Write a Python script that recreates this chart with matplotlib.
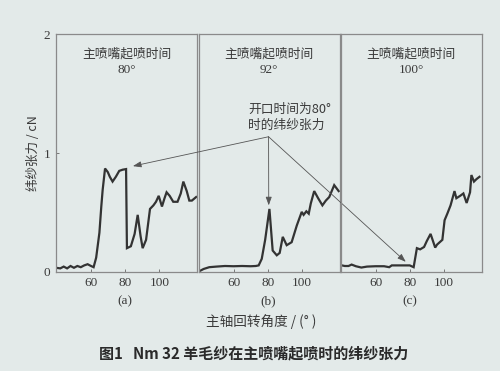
import matplotlib.pyplot as plt
import numpy as np

plt.rcParams['font.family'] = ['Noto Sans CJK SC', 'DejaVu Sans']

# main shaft angle (deg) vs weft tension (cN)
ang_a = [39.5, 42, 44, 46, 48, 50, 52, 54, 56, 58, 60, 61.5, 63, 64.9, 66, 66.8, 68.2, 69.8,
         71, 72.6, 74.5, 76.5, 78.5, 80.5, 81, 83.3, 85.5, 87.3, 89, 90.2, 92.2, 94.5, 96.5,
         98, 99.6, 101.5, 103, 104.2, 106, 108.1, 110.6, 112.5, 114, 116, 117.5, 119, 121.5]
ten_a = [0.035, 0.03, 0.045, 0.03, 0.05, 0.035, 0.05, 0.04, 0.055, 0.065, 0.05, 0.04, 0.12, 0.33,
         0.55, 0.69, 0.87, 0.84, 0.8, 0.76, 0.8, 0.85, 0.86, 0.865, 0.20, 0.216, 0.32, 0.48, 0.3,
         0.20, 0.27, 0.53, 0.56, 0.59, 0.64, 0.55, 0.62, 0.67, 0.64, 0.59, 0.59, 0.66, 0.76, 0.68,
         0.60, 0.60, 0.63]

ang_b = [40.5, 42.5, 45.8, 50, 55, 60, 65, 70, 73, 74.7, 76.5, 78.5, 81, 82.9, 85.3, 87, 88.8,
         91.1, 94, 97, 99.9, 101, 102.6, 104, 105.2, 107.2, 109.5, 112, 114, 116, 118.9, 121.5]
ten_b = [0.01, 0.025, 0.04, 0.045, 0.05, 0.048, 0.05, 0.048, 0.05, 0.055, 0.11, 0.27, 0.53,
         0.18, 0.14, 0.16, 0.295, 0.225, 0.25, 0.39, 0.505, 0.48, 0.51, 0.49, 0.576, 0.68,
         0.62, 0.56, 0.6, 0.63, 0.73, 0.68]

ang_c = [40, 42, 44.2, 46, 48.5, 51.7, 55, 60, 65, 68, 69.5, 72, 76, 80, 82.3, 84.2, 86.1, 88.4,
         90, 92.2, 94.9, 96, 99.1, 100.4, 102, 103.9, 106.2, 107.3, 109.5, 111.4, 113.3, 115.3,
         116.1, 117.6, 119, 120.8]
ten_c = [0.056, 0.05, 0.05, 0.062, 0.048, 0.037, 0.045, 0.048, 0.048, 0.04, 0.055, 0.055, 0.055,
         0.055, 0.04, 0.20, 0.19, 0.21, 0.26, 0.32, 0.205, 0.23, 0.27, 0.435, 0.49, 0.56, 0.68,
         0.62, 0.64, 0.66, 0.58, 0.67, 0.815, 0.76, 0.78, 0.80]

start_angles = ['80°', '92°', '100°']
panel_tags = ['(a)', '(b)', '(c)']
xticks = [60, 80, 100]
yticks = [0, 1, 2]

bg = '#e3eae9'
ink = '#3a3a3a'
serif = ['Liberation Serif', 'DejaVu Serif']

fig = plt.figure(figsize=(5, 3.71), dpi=100, facecolor=bg)
lefts = [0.112, 0.397, 0.681]
axes = []
for i, (x, y) in enumerate([(ang_a, ten_a), (ang_b, ten_b), (ang_c, ten_c)]):
    ax = fig.add_axes([lefts[i], 0.267, 0.282, 0.641])
    ax.set_facecolor('none')
    ax.plot(x, y, color='#333333', lw=1.6, solid_joinstyle='miter')
    ax.set_xlim(39.5, 122)
    ax.set_ylim(0, 2)
    ax.set_xticks(xticks)
    ax.set_xticklabels([str(t) for t in xticks], family=serif, fontsize=9.5, color=ink)
    ax.set_yticks(yticks)
    if i == 0:
        ax.set_yticklabels([str(t) for t in yticks], family=serif, fontsize=9.5, color=ink)
    else:
        ax.tick_params(axis='y', left=False, labelleft=False)
    ax.tick_params(direction='in', length=2.5, width=0.7, colors='#777777', labelcolor=ink, pad=4)
    for s in ax.spines.values():
        s.set_color('#8a8a8a')
        s.set_linewidth(0.9)
    ax.text(0.5, 0.915, '主喷嘴起喷时间', transform=ax.transAxes, ha='center', va='center',
            fontsize=9.2, color=ink)
    ax.text(0.5, 0.85, start_angles[i], transform=ax.transAxes, ha='center', va='center',
            family=serif, fontsize=9.5, color=ink)
    ax.text(80, -0.25, panel_tags[i], ha='center', va='center', family=serif,
            fontsize=9.5, color=ink)
    axes.append(ax)

axa, axb, axc = axes
axa.set_ylabel('纬纱张力 / cN', fontsize=9, color=ink, labelpad=3)

# annotation shared between the three panels
axb.text(68.5, 1.30, '开口时间为80°\n时的纬纱张力', ha='left', va='center',
         fontsize=9.2, color=ink, linespacing=1.25)
origin = (80.5, 1.137)
tips = [(axa, (84.5, 0.89)), (axb, (80.6, 0.56)), (axc, (77.7, 0.085))]
for ax, tip in tips:
    axb.annotate('', xy=tip, xycoords=ax.transData, xytext=origin, textcoords='data',
                 annotation_clip=False,
                 arrowprops=dict(arrowstyle='-|>,head_length=0.5,head_width=0.18',
                                 color='#555555', lw=0.6, shrinkA=0, shrinkB=0))

fig.text(0.522, 0.132, '主轴回转角度 / (° )', ha='center', va='center', fontsize=9.8, color=ink)
fig.text(0.507, 0.048, '图1   Nm 32 羊毛纱在主喷嘴起喷时的纬纱张力', ha='center', va='center',
         fontsize=10.8, color='#2a2a2a', fontweight='bold')

fig.savefig('out.png', dpi=100, facecolor=bg)
